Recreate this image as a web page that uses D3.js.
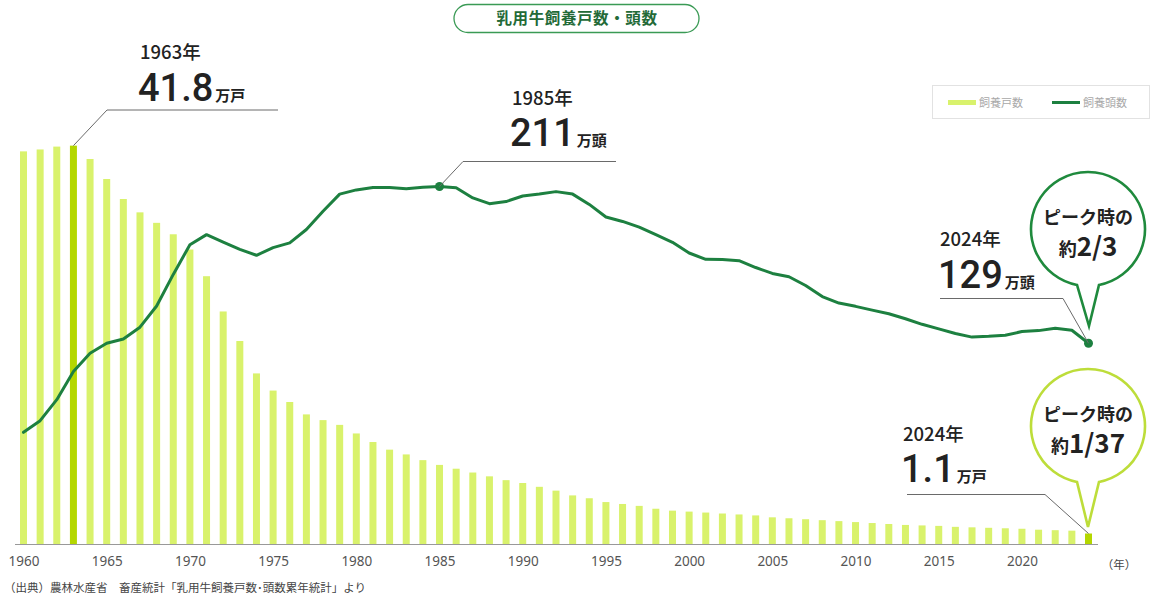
<!DOCTYPE html>
<html lang="ja">
<head>
<meta charset="utf-8">
<script src="https://cdn.jsdelivr.net/npm/d3@7"></script>
<style>
  html, body { margin: 0; padding: 0; background: #fff; }
  svg { display: block; font-family: "Noto Sans CJK JP", "Noto Sans", sans-serif; }
</style>
</head>
<body>
<svg id="chart" width="1156" height="602"></svg>
<script>
// 乳用牛 飼養戸数（万戸）と飼養頭数（万頭）
const years = d3.range(1960, 2025);
const households = [
  41.2, 41.4, 41.7, 41.8, 40.4, 38.3, 36.2, 34.8, 33.7, 32.5,
  30.9, 28.1, 24.4, 21.3, 17.9, 16.1, 14.9, 13.6, 13.0, 12.5,
  11.6, 10.7, 9.9, 9.4, 8.8, 8.3, 7.9, 7.5, 7.1, 6.7,
  6.4, 6.0, 5.6, 5.1, 4.8, 4.4, 4.2, 4.0, 3.7, 3.5,
  3.4, 3.3, 3.2, 3.1, 3.0, 2.8, 2.7, 2.6, 2.5, 2.4,
  2.3, 2.2, 2.1, 2.0, 1.95, 1.9, 1.8, 1.75, 1.7, 1.65,
  1.6, 1.5, 1.45, 1.4, 1.1
];
const heads = [
  82.4, 88.5, 99.5, 114.2, 123.8, 129.0, 131.2, 137.4, 148.5, 165.0,
  180.5, 185.8, 181.9, 178.1, 175.0, 179.0, 181.5, 188.5, 198.0, 207.0,
  209.2, 210.4, 210.4, 209.8, 210.6, 211.0, 210.3, 205.0, 202.0, 203.1,
  206.0, 207.0, 208.3, 207.0, 201.6, 195.0, 192.7, 189.7, 185.8, 181.8,
  176.2, 172.9, 172.8, 172.2, 168.6, 165.5, 163.8, 159.2, 153.4, 150.0,
  148.3, 146.3, 144.4, 141.8, 138.9, 136.5, 134.1, 132.2, 132.6, 133.2,
  135.1, 135.6, 136.8, 135.8, 129.0
];
const tickYears = [1960, 1965, 1970, 1975, 1980, 1985, 1990, 1995, 2000, 2005, 2010, 2015, 2020];
const highlightYears = [1963, 2024];

const title = "乳用牛飼養戸数・頭数";
const legendLabels = ["飼養戸数", "飼養頭数"];
const source = "（出典）農林水産省　畜産統計「乳用牛飼養戸数･頭数累年統計」より";

const C = {
  bar: "#d9f26c",
  barHi: "#b4d700",
  line: "#1d8040",
  bubbleLine: "#1f8a3d",
  bubbleBar: "#bddd3a",
  text: "#222",
  axis: "#999",
  leader: "#6a6a6a"
};

const svg = d3.select("#chart");
const baseY = 544;

const x = d3.scaleLinear().domain([1960, 2024]).range([23.5, 1088.5]);
const yBar = d3.scaleLinear().domain([0, 45]).range([baseY, baseY - 45 * 9.53]);
const yLine = d3.scaleLinear().domain([24, 240]).range([baseY, baseY - 216 * 1.912]);

const rows = years.map((yr, i) => ({ year: yr, h: households[i], c: heads[i] }));
const barW = 7;

// bars: households
svg.append("g").selectAll("rect").data(rows).join("rect")
  .attr("x", d => x(d.year) - barW / 2)
  .attr("y", d => yBar(d.h))
  .attr("width", barW)
  .attr("height", d => yBar(0) - yBar(d.h))
  .attr("fill", d => highlightYears.includes(d.year) ? C.barHi : C.bar);

// baseline
svg.append("line")
  .attr("x1", 15).attr("x2", 1098).attr("y1", baseY + 0.5).attr("y2", baseY + 0.5)
  .attr("stroke", C.axis).attr("stroke-width", 1);

// x axis labels
const xAxis = d3.axisBottom(x).tickValues(tickYears).tickFormat(d3.format("d")).tickSize(0).tickPadding(12);
const gx = svg.append("g").attr("transform", `translate(0,${baseY})`).call(xAxis);
gx.select(".domain").remove();
gx.selectAll("text").attr("font-size", 13.5).attr("fill", "#555")
  .attr("font-family", "'Noto Sans', sans-serif").attr("font-weight", 400);
svg.append("text").attr("x", 1119).attr("y", 569).attr("text-anchor", "middle")
  .attr("font-size", 11.5).attr("fill", "#444").text("（年）");

// line: heads
const line = d3.line().x(d => x(d.year)).y(d => yLine(d.c));
svg.append("path").datum(rows).attr("d", line)
  .attr("fill", "none").attr("stroke", C.line).attr("stroke-width", 3)
  .attr("stroke-linejoin", "round").attr("stroke-linecap", "round");

const byYear = y => rows.find(r => r.year === y);
[1985, 2024].forEach(yr => {
  const d = byYear(yr);
  svg.append("circle").attr("cx", x(yr)).attr("cy", yLine(d.c)).attr("r", 4.5).attr("fill", C.line);
});

// title pill
svg.append("rect").attr("x", 454).attr("y", 4.5).attr("width", 245).attr("height", 28).attr("rx", 14)
  .attr("fill", "#fff").attr("stroke", "#3a9a55").attr("stroke-width", 1.3);
svg.append("text").attr("x", 577).attr("y", 24).attr("text-anchor", "middle")
  .attr("font-size", 15.5).attr("font-weight", 700).attr("fill", "#236a37")
  .attr("letter-spacing", 0.6).text(title);

// legend
const lg = svg.append("g");
lg.append("rect").attr("x", 932.5).attr("y", 85.5).attr("width", 217).attr("height", 33)
  .attr("fill", "#fff").attr("stroke", "#e2e2e2");
lg.append("rect").attr("x", 948).attr("y", 100).attr("width", 28).attr("height", 5).attr("fill", C.bar);
lg.append("text").attr("x", 979).attr("y", 106.5).attr("font-size", 11).attr("fill", "#a8a8a8").text(legendLabels[0]);
lg.append("rect").attr("x", 1052).attr("y", 101).attr("width", 28).attr("height", 3).attr("fill", C.line);
lg.append("text").attr("x", 1083).attr("y", 106.5).attr("font-size", 11).attr("fill", "#a8a8a8").text(legendLabels[1]);

// callout labels with leader lines
function callout(o) {
  svg.append("path")
    .attr("d", d3.line()(o.path))
    .attr("fill", "none").attr("stroke", C.leader).attr("stroke-width", 1);
  svg.append("text").attr("x", o.tx).attr("y", o.ty1)
    .attr("font-size", 18.5).attr("font-weight", 500).attr("fill", C.text).text(o.yearLabel);
  const t = svg.append("text").attr("x", o.tx - 2).attr("y", o.ty2).attr("fill", C.text);
  t.append("tspan").attr("font-size", 38).attr("font-weight", 500)
    .attr("font-family", "Roboto, sans-serif").text(o.value);
  t.append("tspan").attr("font-size", 15).attr("font-weight", 700).attr("dx", 2).text(o.unit);
}

const p63 = [x(1963), yBar(byYear(1963).h)];
callout({
  path: [p63, [107, 110], [278, 110]],
  tx: 140, ty1: 59, ty2: 101, yearLabel: "1963年", value: byYear(1963).h.toFixed(1), unit: "万戸"
});
const p85 = [x(1985), yLine(byYear(1985).c)];
callout({
  path: [p85, [463, 161.5], [616, 161.5]],
  tx: 512, ty1: 105, ty2: 146, yearLabel: "1985年", value: d3.format("d")(byYear(1985).c), unit: "万頭"
});
const p24c = [x(2024), yLine(byYear(2024).c)];
callout({
  path: [[940, 298.5], [1063, 298.5], p24c],
  tx: 940, ty1: 246, ty2: 288, yearLabel: "2024年", value: d3.format("d")(byYear(2024).c), unit: "万頭"
});
const p24h = [x(2024), yBar(byYear(2024).h)];
callout({
  path: [[907, 494.5], [1045, 494.5], p24h],
  tx: 903, ty1: 441, ty2: 482, yearLabel: "2024年", value: byYear(2024).h.toFixed(1), unit: "万戸"
});

// speech bubbles
function bubble(cx, cy, r, tipX, tipY, color, frac) {
  const hw = 11;
  const by = cy + Math.sqrt(r * r - hw * hw);
  const d = `M${cx - hw},${by} A${r},${r} 0 1 1 ${cx + hw},${by} L${tipX},${tipY} Z`;
  svg.append("path").attr("d", d).attr("fill", "#fff")
    .attr("stroke", color).attr("stroke-width", 2.6).attr("stroke-linejoin", "miter");
  svg.append("text").attr("x", cx).attr("y", cy - 5).attr("text-anchor", "middle")
    .attr("font-size", 18).attr("font-weight", 700).attr("fill", C.text).text("ピーク時の");
  const t = svg.append("text").attr("x", cx).attr("y", cy + 27).attr("text-anchor", "middle").attr("fill", C.text);
  t.append("tspan").attr("font-size", 18).attr("font-weight", 700).text("約");
  t.append("tspan").attr("font-size", 26).attr("font-weight", 700).text(frac);
}
bubble(1088, 229, 57, 1089, 326, C.bubbleLine, "2/3");
bubble(1088, 426, 57, 1088, 527, C.bubbleBar, "1/37");

// source note
svg.append("text").attr("x", 4).attr("y", 592).attr("font-size", 11.5).attr("fill", "#444").text(source);
</script>
</body>
</html>
